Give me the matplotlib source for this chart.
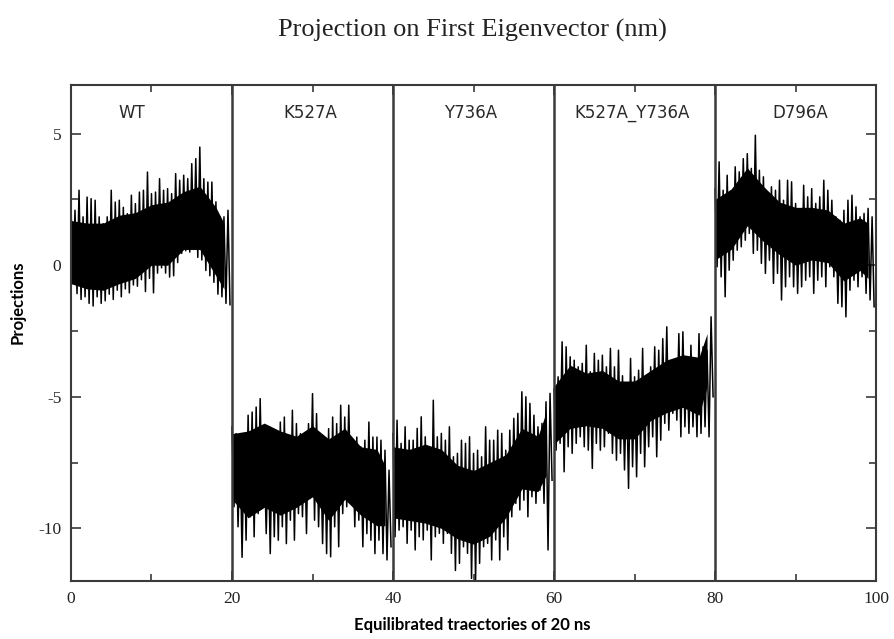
import numpy as np
import matplotlib
matplotlib.use("Agg")
import matplotlib.pyplot as plt
from matplotlib.ticker import MultipleLocator

plt.rcParams["axes.unicode_minus"] = False

# segment names and where each 20 ns run starts on the concatenated axis
labels = ["WT", "K527A", "Y736A", "K527A_Y736A", "D796A"]
starts = [0, 20, 40, 60, 80]
label_x = [7.5, 29.7, 49.6, 69.7, 90.6]

# local spike tops / bottoms, every 0.5 ns of each run
wt_hi = [2.28, 2.09, 2.85, 1.84, 2.59, 2.53, 2.47, 1.84, 1.58, 1.84,
         2.85, 2.40, 2.47, 2.20, 1.96, 2.66, 2.34, 2.78, 2.85, 3.54,
         2.72, 2.78, 3.29, 2.85, 2.91, 2.72, 3.48, 3.23, 3.42, 3.29,
         3.86, 4.05, 4.49, 3.29, 3.16, 3.16, 2.41, 1.84, 1.84, 2.09]
wt_lo = [-0.70, -1.08, -1.30, -1.20, -1.45, -1.55, -1.20, -1.45, -1.35, -1.10,
         -1.30, -0.95, -1.20, -0.90, -1.05, -0.75, -0.80, -0.55, -1.00, -0.50,
         -1.05, -0.30, -0.10, -0.30, -0.45, -0.40, 0.10, 0.45, 0.55, 0.50,
         0.60, 0.30, 0.20, -0.20, -0.40, -0.65, -1.10, -1.20, -1.45, -1.50]

k527a_hi = [-6.15, -6.40, -6.78, -6.65, -5.70, -5.58, -5.39, -5.07, -7.16, -6.90,
            -6.46, -6.65, -5.96, -5.77, -6.53, -5.51, -6.02, -6.40, -6.53, -6.02,
            -4.88, -5.64, -7.03, -6.78, -6.21, -5.77, -6.02, -5.32, -5.77, -5.32,
            -6.78, -6.53, -6.90, -6.65, -5.96, -6.53, -6.53, -6.65, -7.03, -7.79]
k527a_lo = [-9.18, -9.94, -11.10, -10.45, -9.56, -10.32, -9.44, -9.18, -10.20, -10.96,
            -10.32, -10.45, -9.94, -10.58, -9.69, -10.45, -9.44, -9.56, -10.20, -8.80,
            -9.69, -9.94, -10.58, -10.96, -11.08, -9.94, -10.70, -9.44, -9.18, -8.93,
            -9.94, -9.69, -10.70, -10.20, -10.45, -10.96, -10.45, -10.96, -11.20, -10.70]

y736a_hi = [-6.40, -5.89, -6.77, -6.14, -6.65, -6.65, -6.20, -5.76, -6.52, -7.03,
            -5.13, -6.52, -6.39, -6.65, -6.14, -7.28, -7.15, -6.65, -6.77, -6.52,
            -7.15, -7.03, -7.28, -6.14, -6.65, -6.65, -6.27, -6.39, -7.03, -6.27,
            -5.82, -5.63, -4.81, -5.00, -5.25, -5.70, -6.14, -6.01, -5.19, -4.87]
y736a_lo = [-10.32, -10.07, -9.94, -10.57, -10.07, -10.82, -10.32, -10.44, -10.07, -11.20,
            -10.32, -10.19, -10.57, -10.19, -10.95, -11.60, -11.33, -10.70, -10.95, -11.90,
            -11.95, -11.33, -10.70, -10.57, -11.20, -10.44, -11.20, -10.32, -10.82, -9.56,
            -9.05, -9.30, -8.93, -9.56, -8.80, -9.05, -8.55, -9.05, -10.82, -8.17]

double_hi = [-4.70, -4.24, -2.91, -3.10, -3.48, -3.61, -3.86, -3.73, -3.04, -4.05,
             -3.35, -3.61, -3.42, -3.86, -3.16, -3.86, -3.23, -4.20, -4.50, -3.54,
             -4.24, -3.99, -3.16, -4.37, -3.86, -3.10, -3.23, -2.79, -2.34, -3.86,
             -3.61, -2.60, -2.53, -3.48, -3.04, -3.86, -2.60, -3.10, -3.23, -1.96]
double_lo = [-7.03, -6.77, -7.85, -6.90, -7.15, -6.77, -6.52, -6.90, -7.03, -7.72,
             -6.77, -7.03, -6.90, -6.39, -7.15, -7.41, -7.15, -7.78, -8.48, -7.66,
             -8.04, -7.15, -7.66, -6.90, -6.52, -7.28, -6.65, -6.01, -6.27, -5.63,
             -5.89, -6.52, -6.14, -6.39, -6.14, -6.52, -6.39, -6.14, -6.52, -5.00]

d796a_hi = [2.90, 3.93, 2.85, 3.42, 2.73, 3.74, 3.55, 4.05, 4.24, 3.68,
            4.94, 3.61, 3.36, 2.60, 2.98, 2.85, 3.23, 2.47, 3.23, 3.17,
            2.35, 2.09, 3.04, 2.60, 2.91, 2.35, 2.60, 3.23, 2.85, 2.47,
            1.84, 1.71, 2.09, 2.47, 2.66, 2.22, 1.84, 1.97, 2.16, 1.84]
d796a_lo = [-0.06, -0.44, -1.20, -0.19, 0.19, 0.57, 0.70, 0.95, 1.21, 0.45,
            0.57, 0.07, -0.31, 0.19, -0.69, -0.31, -1.32, -0.82, -0.44, -0.82,
            -1.07, -0.82, -0.57, -0.44, -1.07, -0.57, -0.44, -0.82, -0.06, -0.44,
            -1.45, -1.58, -1.96, -0.95, -0.57, -0.82, -0.44, -1.07, -1.32, -1.58]

# solid core of each band (top / bottom), read every 2 ns
wt_core_top = [1.7, 1.6, 1.6, 1.9, 2.0, 2.3, 2.4, 2.8, 3.0, 2.2, 1.6]
wt_core_bot = [-0.7, -0.9, -0.95, -0.7, -0.5, 0.0, 0.0, 0.6, 0.6, -0.4, -0.9]
k527a_core_top = [-6.4, -6.3, -6.0, -6.3, -6.5, -6.1, -6.6, -6.2, -6.9, -7.0, -7.6]
k527a_core_bot = [-8.9, -9.6, -9.2, -9.5, -9.2, -8.8, -9.7, -8.9, -9.5, -9.9, -9.9]
y736a_core_top = [-6.9, -7.0, -6.8, -7.0, -7.6, -7.8, -7.5, -7.2, -6.2, -6.5, -5.6]
y736a_core_bot = [-9.6, -9.7, -9.8, -10.0, -10.4, -10.6, -10.3, -9.6, -8.5, -8.6, -8.0]
double_core_top = [-4.6, -3.8, -4.1, -4.0, -4.4, -4.4, -4.0, -3.6, -3.4, -3.5, -2.6]
double_core_bot = [-6.8, -6.2, -6.1, -6.2, -6.6, -6.6, -5.9, -5.6, -5.4, -5.7, -4.6]
d796a_core_top = [2.5, 2.9, 3.7, 3.0, 2.4, 2.2, 2.2, 2.1, 1.6, 1.8, 1.6]
d796a_core_bot = [0.2, 0.6, 1.5, 0.9, 0.4, 0.0, 0.2, 0.1, -0.6, -0.2, -0.5]

his = [wt_hi, k527a_hi, y736a_hi, double_hi, d796a_hi]
los = [wt_lo, k527a_lo, y736a_lo, double_lo, d796a_lo]
core_tops = [wt_core_top, k527a_core_top, y736a_core_top, double_core_top, d796a_core_top]
core_bots = [wt_core_bot, k527a_core_bot, y736a_core_bot, double_core_bot, d796a_core_bot]

serif = "Liberation Serif"

fig = plt.figure(figsize=(8.94, 6.39), dpi=100)
ax = fig.add_axes([0.0794, 0.0908, 0.9006, 0.7762])

for start, hi, lo, ctop, cbot in zip(starts, his, los, core_tops, core_bots):
    cx = start + 2 * np.arange(len(ctop))
    cx[-1] = start + 19.75
    ax.fill_between(cx, cbot, ctop, color="black", lw=0, zorder=2)
    n = len(hi)
    x = np.empty(2 * n)
    y = np.empty(2 * n)
    x[0::2] = start + 0.5 * np.arange(n)
    x[1::2] = start + 0.5 * np.arange(n) + 0.25
    y[0::2] = hi
    y[1::2] = lo
    ax.plot(x, y, color="black", lw=1.1, zorder=2)

# run separators
for s in starts[1:]:
    ax.axvline(s, color="#3a3a3a", lw=1.8, zorder=3)

for lx, name in zip(label_x, labels):
    ax.text(lx, 0.944, name, transform=ax.get_xaxis_transform(),
            ha="center", va="center", fontsize=12, color="#2a2a2a",
            family="DejaVu Sans")

ax.set_xlim(0, 100)
ax.set_ylim(-12, 6.85)
ax.xaxis.set_major_locator(MultipleLocator(20))
ax.xaxis.set_minor_locator(MultipleLocator(10))
ax.yaxis.set_major_locator(MultipleLocator(5))
ax.yaxis.set_minor_locator(MultipleLocator(2.5))
ax.tick_params(which="both", direction="in", top=True, right=True,
               color="#3a3a3a", width=1.2)
ax.tick_params(which="major", length=7, labelsize=12.5, labelcolor="#222222", pad=7)
ax.tick_params(which="minor", length=5)
for lab in ax.get_xticklabels() + ax.get_yticklabels():
    lab.set_family(serif)
for sp in ax.spines.values():
    sp.set_color("#3a3a3a")
    sp.set_linewidth(1.5)

fig.text(0.528, 0.953, "Projection on First Eigenvector (nm)", ha="center",
         va="center", fontsize=19, family=serif, color="#222222")
fig.text(0.528, 0.022, "Equilibrated traectories of 20 ns", ha="center",
         va="center", fontsize=12, family="Lato", fontweight="bold")
fig.text(0.02, 0.527, "Projections", ha="center", va="center", rotation=90,
         fontsize=12, family="Lato", fontweight="bold")

fig.savefig("out.png", dpi=100)
